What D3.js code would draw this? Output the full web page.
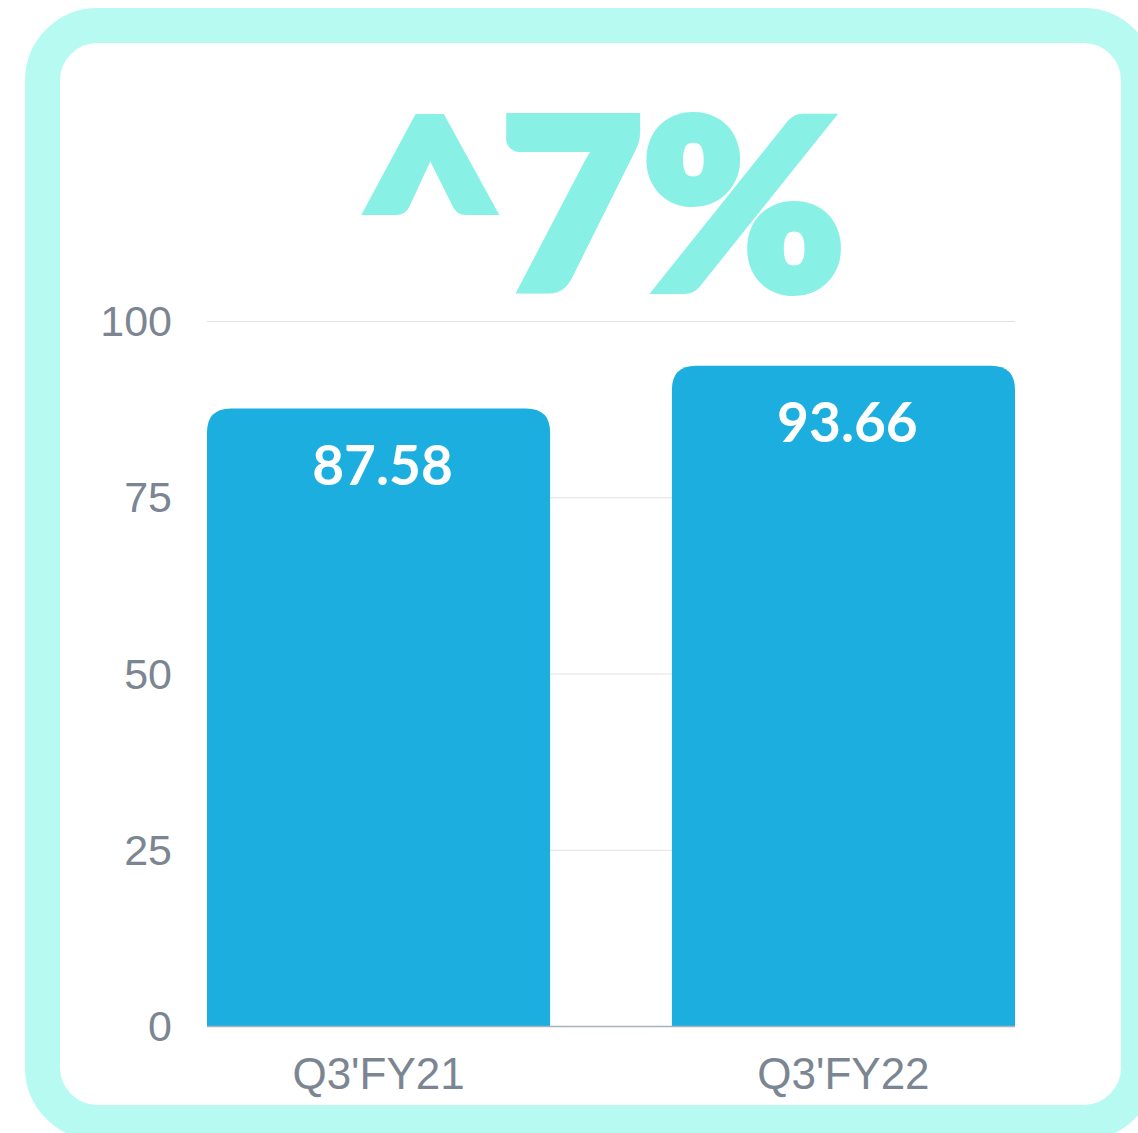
<!DOCTYPE html>
<html>
<head>
<meta charset="utf-8">
<script src="https://cdn.jsdelivr.net/npm/d3@7"></script>
<style>
  html, body { margin: 0; padding: 0; background: #fff; overflow: hidden; }
  svg { display: block; }
</style>
</head>
<body>
<script>
// chart data
var categories = ["Q3'FY21", "Q3'FY22"];
var values = [87.58, 93.66];
var valueLabels = ["87.58", "93.66"];
var yTicks = [0, 25, 50, 75, 100];
var headline = "^7%";

var width = 1138,
    height = 1133;

var svg = d3.select("body")
    .append("svg")
    .attr("width", width)
    .attr("height", height);

// rounded frame
svg.append("rect")
    .attr("x", 42.5)
    .attr("y", 25.5)
    .attr("width", 1096)
    .attr("height", 1097)
    .attr("rx", 55)
    .attr("ry", 55)
    .style("fill", "#fff")
    .style("stroke", "#b7faf2")
    .style("stroke-width", 35);

var x = d3.scaleBand()
    .domain(categories)
    .range([207, 1015])
    .paddingInner(0.262)
    .paddingOuter(0);

var y = d3.scaleLinear()
    .domain([0, 100])
    .range([1026, 321]);

// gridlines
svg.append("g")
    .selectAll("line")
    .data(yTicks.filter(function (d) { return d > 0; }))
    .enter().append("line")
    .attr("x1", 207)
    .attr("x2", 1015)
    .attr("y1", function (d) { return y(d) + 0.5; })
    .attr("y2", function (d) { return y(d) + 0.5; })
    .style("stroke", "#dfe2e5")
    .style("stroke-width", 1);

// y tick labels
svg.append("g")
    .selectAll("text")
    .data(yTicks)
    .enter().append("text")
    .attr("x", 172)
    .attr("y", function (d) { return y(d); })
    .attr("dy", "0.35em")
    .attr("text-anchor", "end")
    .style("font-family", "'Liberation Sans', Arial, sans-serif")
    .style("font-size", "43px")
    .style("fill", "#7b8692")
    .text(function (d) { return d; });

// bars with rounded tops
var r = 24;
function barPath(d, i) {
    var x0 = x(categories[i]), x1 = x0 + x.bandwidth(),
        y0 = y(0), y1 = y(d);
    return "M" + x0 + "," + y0 +
        "V" + (y1 + r) +
        "Q" + x0 + "," + y1 + " " + (x0 + r) + "," + y1 +
        "H" + (x1 - r) +
        "Q" + x1 + "," + y1 + " " + x1 + "," + (y1 + r) +
        "V" + y0 + "Z";
}

svg.append("g")
    .selectAll("path")
    .data(values)
    .enter().append("path")
    .attr("d", barPath)
    .style("fill", "#1daee0");

// baseline
svg.append("line")
    .attr("x1", 207)
    .attr("x2", 1015)
    .attr("y1", y(0) + 0.5)
    .attr("y2", y(0) + 0.5)
    .style("stroke", "#a7b4bf")
    .style("stroke-width", 1.5);

// value labels
svg.append("g")
    .selectAll("text")
    .data(values)
    .enter().append("text")
    .attr("x", function (d, i) { return x(categories[i]) + x.bandwidth() / 2 + 4; })
    .attr("y", function (d) { return y(d) + 76; })
    .attr("text-anchor", "middle")
    .style("font-family", "Lato, sans-serif")
    .style("font-weight", "bold")
    .style("font-size", "55px")
    .style("fill", "#fff")
    .text(function (d, i) { return valueLabels[i]; });

// category labels
svg.append("g")
    .selectAll("text")
    .data(categories)
    .enter().append("text")
    .attr("x", function (d) { return x(d) + x.bandwidth() / 2; })
    .attr("y", 1089)
    .attr("text-anchor", "middle")
    .style("font-family", "'Liberation Sans', Arial, sans-serif")
    .style("font-size", "44px")
    .style("fill", "#7b8692")
    .text(function (d) { return d; });

// headline
svg.append("text")
    .attr("x", 602)
    .attr("y", 289)
    .attr("text-anchor", "middle")
    .attr("textLength", 485)
    .attr("lengthAdjust", "spacingAndGlyphs")
    .style("font-family", "Lato, sans-serif")
    .style("font-weight", 900)
    .style("font-size", "234px")
    .style("fill", "#89f0e6")
    .style("stroke", "#89f0e6")
    .style("stroke-width", 10)
    .text(headline);
</script>
</body>
</html>
